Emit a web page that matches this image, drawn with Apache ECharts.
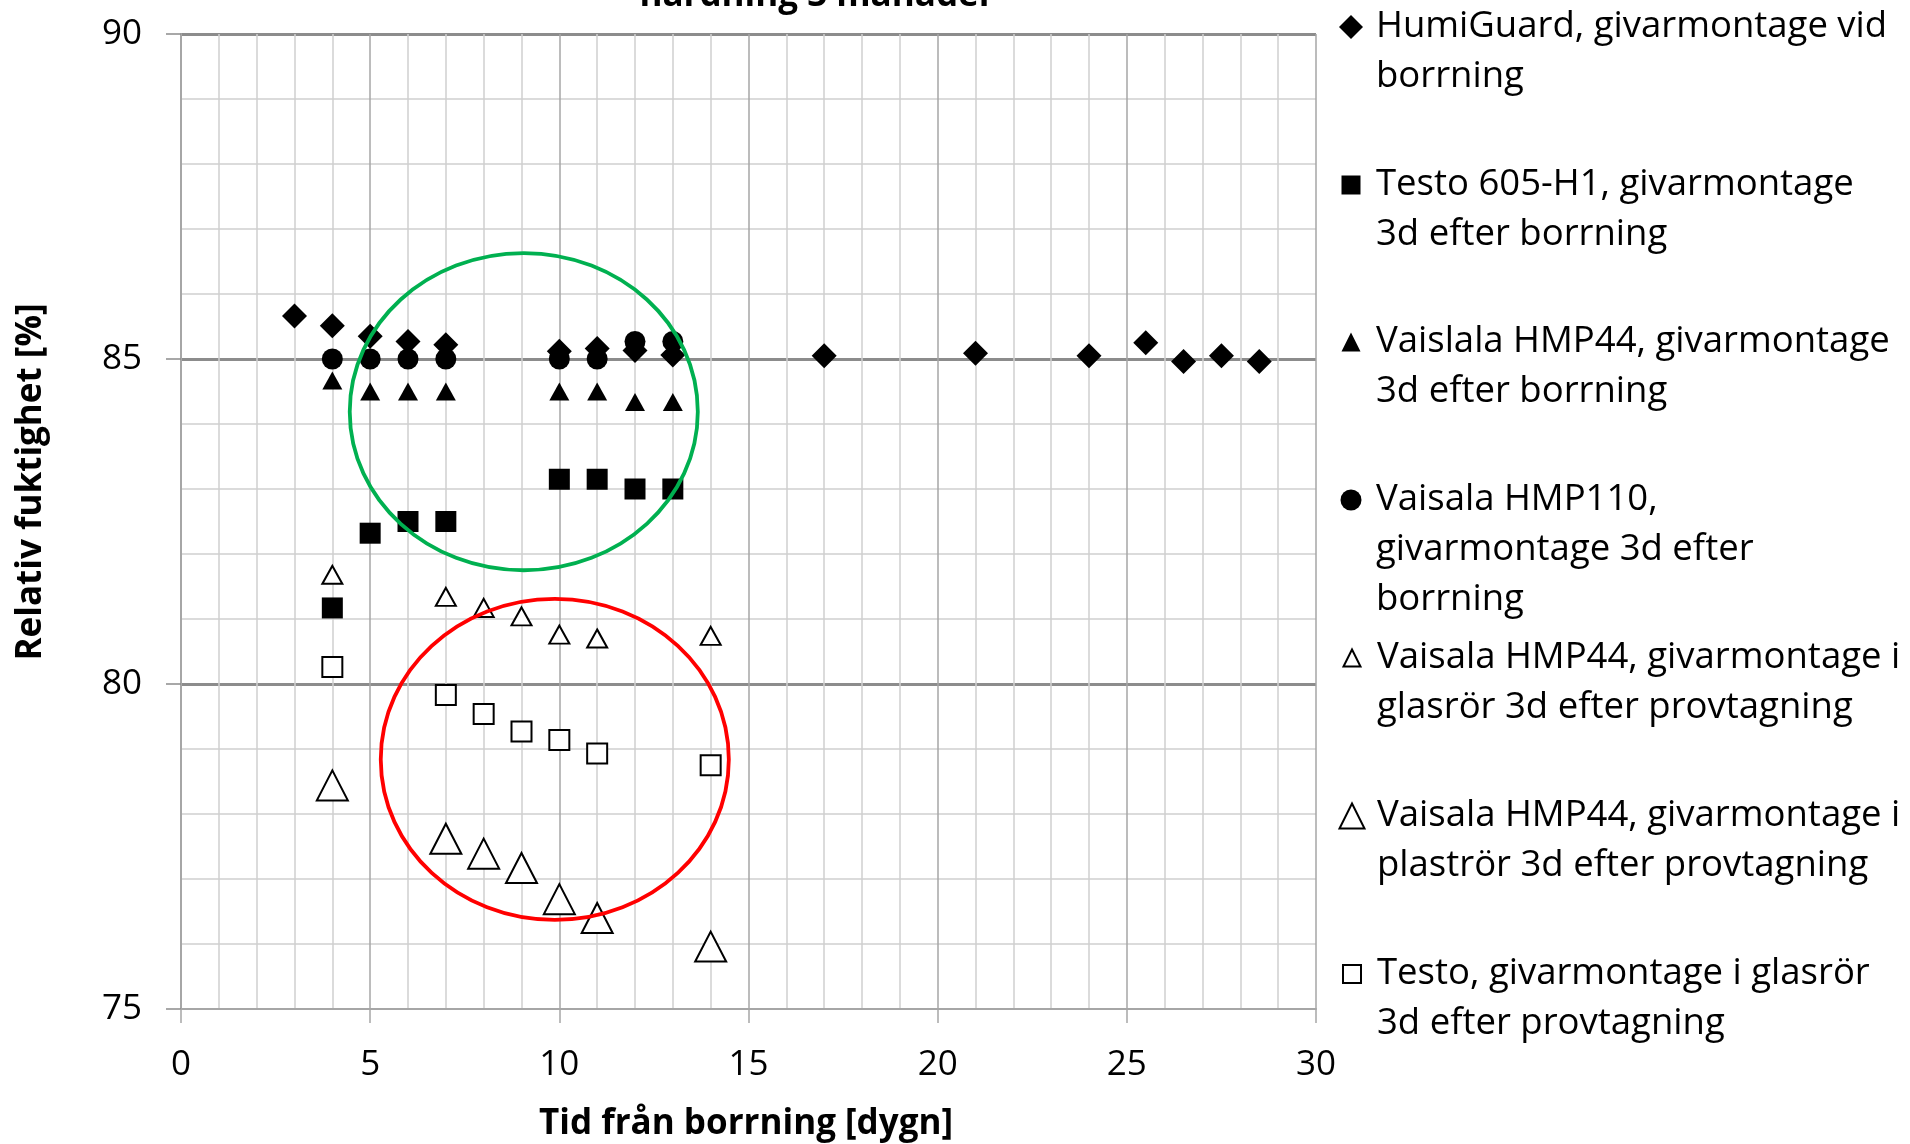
<!DOCTYPE html>
<html>
<head>
<meta charset="utf-8">
<script src="https://cdn.jsdelivr.net/npm/echarts@6/dist/echarts.min.js"></script>
<style>
html,body{margin:0;padding:0;background:#fff;}
#chart{width:1910px;height:1144px;}
</style>
</head>
<body>
<div id="chart"></div>
<script>
// ---- data ----
const seriesNames = [
  'HumiGuard, givarmontage vid borrning',
  'Testo 605-H1, givarmontage 3d efter borrning',
  'Vaislala HMP44, givarmontage 3d efter borrning',
  'Vaisala HMP110, givarmontage 3d efter borrning',
  'Vaisala HMP44, givarmontage i glasrör 3d efter provtagning',
  'Vaisala HMP44, givarmontage i plaströr 3d efter provtagning',
  'Testo, givarmontage i glasrör 3d efter provtagning'
];
const legendLabels = [
  'HumiGuard, givarmontage vid\nborrning',
  'Testo 605-H1, givarmontage\n3d efter borrning',
  'Vaislala HMP44, givarmontage\n3d efter borrning',
  'Vaisala HMP110,\ngivarmontage 3d efter\nborrning',
  'Vaisala HMP44, givarmontage i\nglasrör 3d efter provtagning',
  'Vaisala HMP44, givarmontage i\nplaströr 3d efter provtagning',
  'Testo, givarmontage i glasrör\n3d efter provtagning'
];
const humiX = [3, 4, 5, 6, 7, 10, 11, 12, 13, 17, 21, 24, 25.5, 26.5, 27.5, 28.5];
const humiY = [85.66, 85.51, 85.35, 85.27, 85.22, 85.12, 85.16, 85.13, 85.06, 85.05, 85.09, 85.05, 85.25, 84.96, 85.05, 84.96];
const testoX = [4, 5, 6, 7, 10, 11, 12, 13];
const testoY = [81.17, 82.32, 82.5, 82.5, 83.15, 83.15, 83.0, 83.0];
const hmp44X = [4, 5, 6, 7, 10, 11, 12, 13];
const hmp44Y = [84.67, 84.5, 84.5, 84.5, 84.5, 84.5, 84.34, 84.34];
const hmp110X = [4, 5, 6, 7, 10, 11, 12, 13];
const hmp110Y = [85.0, 85.0, 85.0, 85.0, 85.0, 85.0, 85.27, 85.27];
const glasTriX = [4, 7, 8, 9, 10, 11, 14];
const glasTriY = [81.68, 81.34, 81.17, 81.04, 80.76, 80.70, 80.74];
const plastTriX = [4, 7, 8, 9, 10, 11, 14];
const plastTriY = [78.44, 77.62, 77.39, 77.17, 76.69, 76.40, 75.96];
const testoGlasX = [4, 7, 8, 9, 10, 11, 14];
const testoGlasY = [80.26, 79.83, 79.54, 79.27, 79.14, 78.93, 78.75];
// annotation ellipses: [centerX, centerY, radiusX (days), radiusY (%)]
const greenEllipse = [9.06, 84.19, 4.6, 2.44];
const redEllipse = [9.88, 78.84, 4.6, 2.47];

const xTicks = {min: 0, max: 30, interval: 5};
const yTicks = {min: 75, max: 90, interval: 5};
const titleText = 'härdning 3 månader';
const xTitle = 'Tid från borrning [dygn]';
const yTitle = 'Relativ fuktighet [%]';

// ---- chart ----
const FONT = '"Open Sans"';
const zip = (xs, ys) => xs.map((x, i) => [x, ys[i]]);
const chart = echarts.init(document.getElementById('chart'), null, {renderer: 'canvas'});

const filled = {color: '#000'};
const open = {color: '#fff', borderColor: '#000', borderWidth: 2};

const seriesDefs = [
  {x: humiX, y: humiY, symbol: 'diamond', size: [25, 25], style: filled, icon: 24},
  {x: testoX, y: testoY, symbol: 'rect', size: [21, 21], style: filled, icon: 19},
  {x: hmp44X, y: hmp44Y, symbol: 'triangle', size: [20, 18], style: filled, icon: 19},
  {x: hmp110X, y: hmp110Y, symbol: 'circle', size: [21, 21], style: filled, icon: 21},
  {x: glasTriX, y: glasTriY, symbol: 'triangle', size: [20, 18], style: open, icon: 17},
  {x: plastTriX, y: plastTriY, symbol: 'triangle', size: [31, 30], style: open, icon: 25},
  {x: testoGlasX, y: testoGlasY, symbol: 'rect', size: [20, 20], style: open, icon: 18}
];

const series = seriesDefs.map((d, i) => ({
  name: seriesNames[i],
  type: 'scatter',
  symbol: d.symbol,
  symbolSize: d.size,
  itemStyle: Object.assign({opacity: 1}, d.style),
  data: zip(d.x, d.y),
  z: 3,
  silent: true
}));

function ellipseSeries(vals, color) {
  return {
    type: 'custom',
    silent: true,
    z: 5,
    clip: false,
    data: [vals],
    renderItem: function (params, api) {
      const c = api.coord([api.value(0), api.value(1)]);
      const s = api.size([api.value(2), api.value(3)]);
      return {
        type: 'ellipse',
        shape: {cx: c[0], cy: c[1], rx: s[0], ry: s[1]},
        style: {fill: 'none', stroke: color, lineWidth: 3.8}
      };
    }
  };
}
series.push(ellipseSeries(greenEllipse, '#00b050'));
series.push(ellipseSeries(redEllipse, '#ff0000'));

// legends: one component per entry so entries sit at equal spacing;
// blank lines are prepended so the icon lines up with the first text line
const LH = 50;
const legendCenters = [27, 185, 342, 500, 658, 816, 974];
const legends = seriesNames.map((name, i) => {
  const n = legendLabels[i].split('\n').length;
  const ic = seriesDefs[i].icon;
  const label = ' \n'.repeat(n - 1) + legendLabels[i];
  return {
    data: [name],
    orient: 'vertical',
    left: 1351 - ic / 2,
    top: legendCenters[i] - (2 * n - 1) * LH / 2,
    padding: 0,
    itemGap: 0,
    itemWidth: ic,
    itemHeight: ic,
    selectedMode: false,
    formatter: () => label,
    textStyle: {
      fontFamily: FONT,
      fontSize: 36.5,
      color: '#000',
      lineHeight: LH,
      padding: [0, 0, 0, 1376 - (1351 + ic / 2) - 5]
    }
  };
});

const option = {
  animation: false,
  backgroundColor: '#fff',
  grid: {left: 181, right: 1910 - 1316, top: 34, bottom: 1144 - 1009, containLabel: false},
  xAxis: {
    type: 'value',
    min: xTicks.min, max: xTicks.max, interval: xTicks.interval,
    axisLine: {show: true, onZero: false, lineStyle: {color: '#a6a6a6', width: 2}},
    axisTick: {show: true, length: 14, inside: false, lineStyle: {color: '#a6a6a6', width: 1.5}},
    axisLabel: {margin: 39, fontFamily: FONT, fontSize: 35, color: '#000'},
    splitLine: {show: true, lineStyle: {color: '#a6a6a6', width: 1.5}},
    minorTick: {show: false, splitNumber: 5},
    minorSplitLine: {show: true, lineStyle: {color: '#d0d0d0', width: 1.5}}
  },
  yAxis: {
    type: 'value',
    min: yTicks.min, max: yTicks.max, interval: yTicks.interval,
    axisLine: {show: true, onZero: false, lineStyle: {color: '#a6a6a6', width: 2}},
    axisTick: {show: true, length: 15, inside: false, lineStyle: {color: '#8c8c8c', width: 1.5}},
    axisLabel: {margin: 39, fontFamily: FONT, fontSize: 35, color: '#000'},
    splitLine: {show: true, showMinLine: false, lineStyle: {color: '#8c8c8c', width: 3}},
    minorTick: {show: false, splitNumber: 5},
    minorSplitLine: {show: true, lineStyle: {color: '#d0d0d0', width: 1.5}}
  },
  legend: legends,
  graphic: [
    {type: 'text', x: 817, y: 14, silent: true,
      style: {text: titleText, align: 'center', verticalAlign: 'bottom',
        font: 'bold 35px ' + FONT, fill: '#000'}},
    {type: 'text', x: 746, y: 1124, silent: true,
      style: {text: xTitle, align: 'center', verticalAlign: 'middle',
        font: 'bold 35px ' + FONT, fill: '#000'}},
    {type: 'text', x: 31, y: 482, rotation: Math.PI / 2, silent: true,
      style: {text: yTitle, align: 'center', verticalAlign: 'middle',
        font: 'bold 35px ' + FONT, fill: '#000'}}
  ],
  series: series
};
chart.setOption(option);
</script>
</body>
</html>
